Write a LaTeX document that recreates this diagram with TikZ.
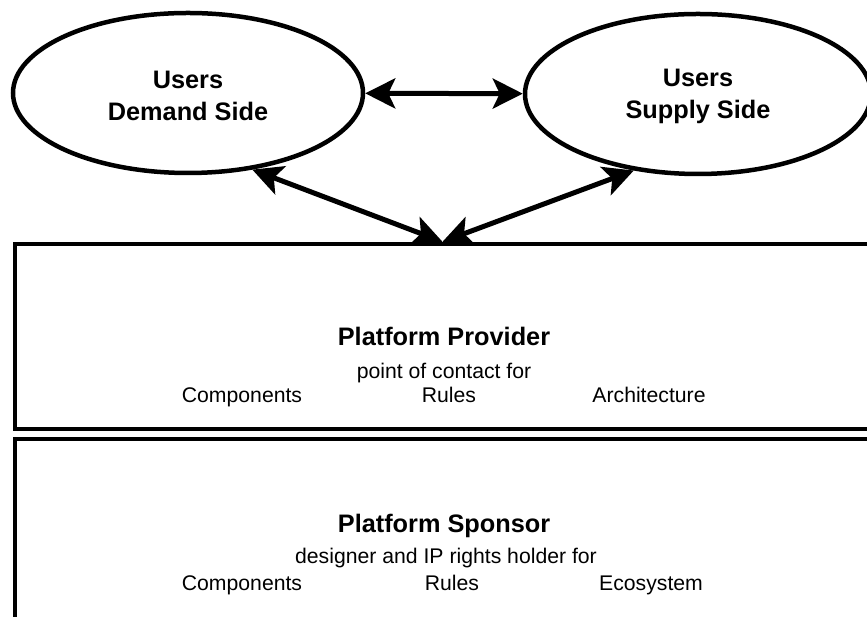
\documentclass[tikz,border=0pt]{standalone}
\usepackage{fontspec}
\setmainfont{Liberation Sans}
\usetikzlibrary{arrows.meta, positioning, shapes.geometric}
\tikzset{
  userellipse/.style={draw, ellipse, line width=4.5pt, minimum width=#1, minimum height=160pt,
      inner sep=0pt, align=center, font=\fontsize{25.3}{32}\selectfont\bfseries},
  platformbox/.style={draw, line width=4.5pt, minimum width=855pt, minimum height=#1, inner sep=0pt},
  myarrow/.style={arrows={Stealth[length=30pt, width=30pt, inset=7pt]-Stealth[length=30pt, width=30pt, inset=7pt]},
      line width=5pt},
  headlbl/.style={font=\fontsize{25.3}{30}\selectfont\bfseries, anchor=base},
  mylbl/.style={font=\fontsize{21.2}{26}\selectfont, anchor=base},
}

\begin{document}
\begin{tikzpicture}[x=1pt, y=1pt]
  \clip (0,0) rectangle (867,617);
  % the two user sides
  \node[userellipse=350pt] (demand) at (188,524) {\strut Users\\Demand Side};
  \node[userellipse=346pt] (supply) at (698,523) {\strut Users\\Supply Side};
  % provider and sponsor layers, running off the page
  \node[platformbox=185pt] (prov) at (442.5,280.5) {};
  \node[platformbox=211pt] (spons) at (442.5,72.5) {};

  \node[headlbl] (provttl) at (444,271) {Platform Provider};
  \node[mylbl] (provsub) at (444,238) {point of contact for};
  \node[mylbl] (provcomp) at (242,214) {Components};
  \node[mylbl] (provrules) at (449,214) {Rules};
  \node[mylbl] (provarch) at (649,214) {Architecture};

  \node[headlbl] (sponsttl) at (444,84) {Platform Sponsor};
  \node[mylbl] (sponssub) at (446,53) {designer and IP rights holder for};
  \node[mylbl] (sponscomp) at (242,26) {Components};
  \node[mylbl] (sponsrules) at (452,26) {Rules};
  \node[mylbl] (sponseco) at (651,26) {Ecosystem};

  \draw[myarrow] (demand) -- (supply);
  \draw[myarrow] (prov.north) -- (demand.-50);
  \draw[myarrow] (prov.north) -- (supply.230);
\end{tikzpicture}
\end{document}
